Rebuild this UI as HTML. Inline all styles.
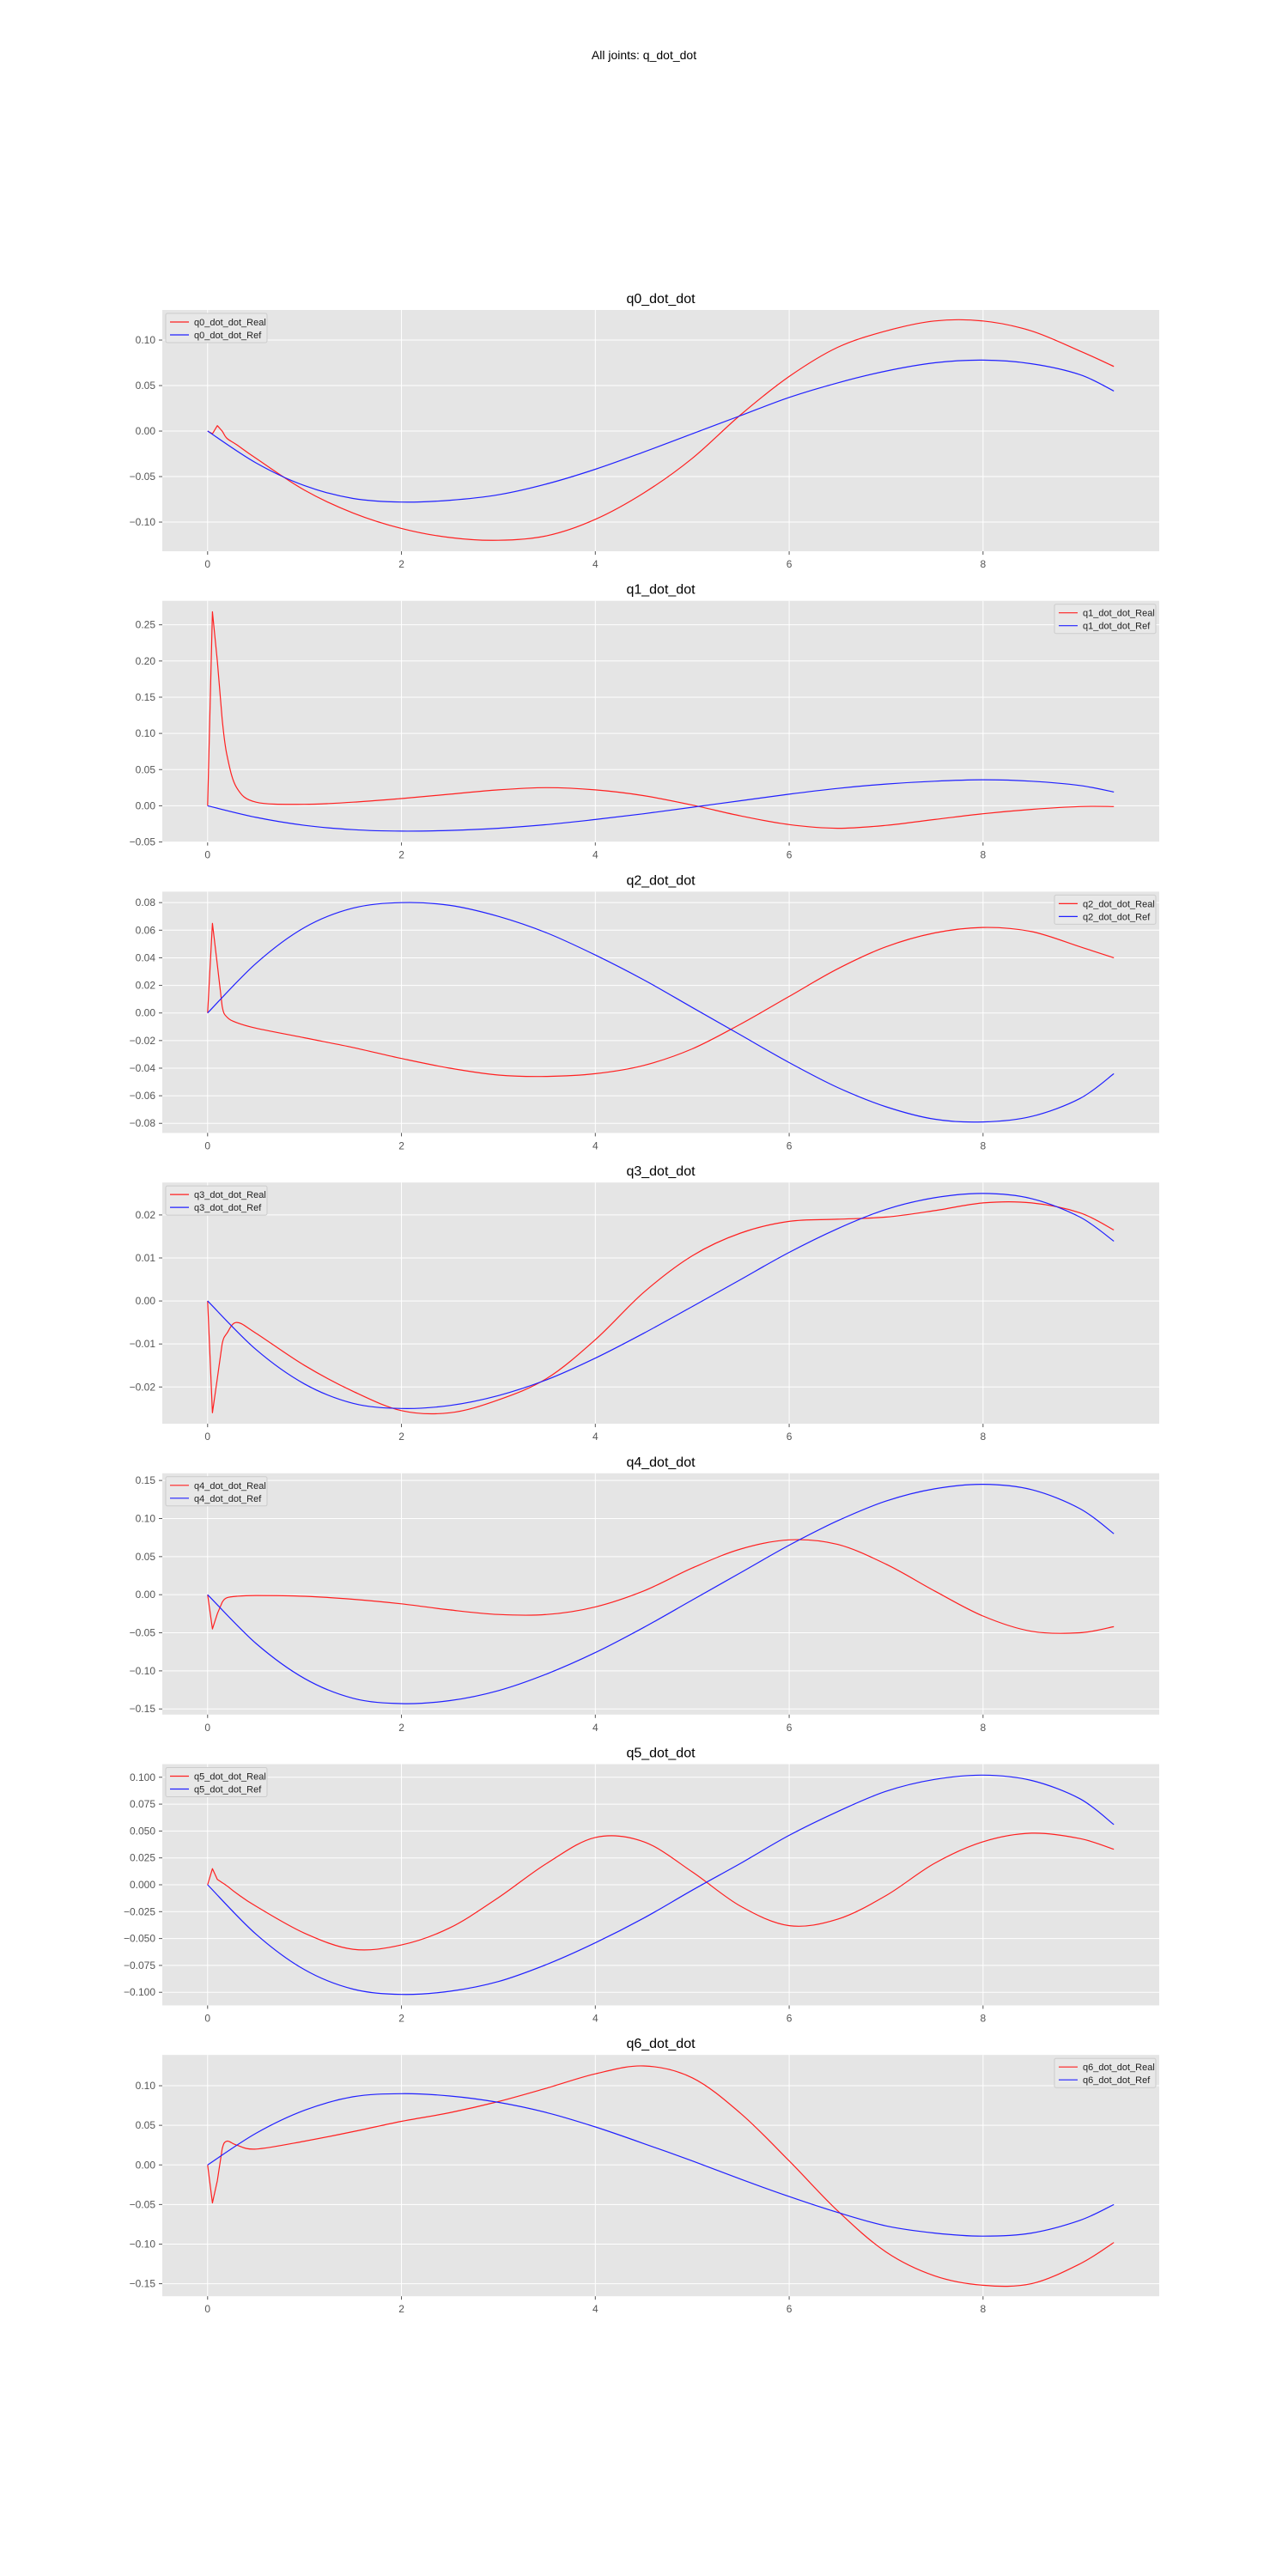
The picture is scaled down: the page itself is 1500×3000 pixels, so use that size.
<!DOCTYPE html>
<html><head><meta charset="utf-8"><style>
html,body{margin:0;padding:0;background:#fff;}
svg{display:block;font-family:"Liberation Sans",sans-serif;}
</style></head><body>
<svg id="fig" width="1500" height="3000" xmlns="http://www.w3.org/2000/svg">
<text x="750" y="69" text-anchor="middle" font-size="14" fill="#000">All joints: q_dot_dot</text>
</svg>
<script>
const tReal=[0,0.05,0.1,0.15,0.2,0.3,0.5,1,1.5,2,2.5,3,3.5,4,4.5,5,5.5,6,6.5,7,7.5,8,8.5,9,9.35];
const tRef=[0,0.5,1,1.5,2,2.5,3,3.5,4,4.5,5,5.5,6,6.5,7,7.5,8,8.5,9,9.35];
const xTicks=[0,2,4,6,8];
const names=["q0","q1","q2","q3","q4","q5","q6"];
const real0=[0,-0.003,0.006,0.0,-0.008,-0.015,-0.03,-0.065,-0.09,-0.107,-0.117,-0.12,-0.115,-0.097,-0.068,-0.03,0.018,0.06,0.092,0.11,0.121,0.121,0.11,0.088,0.071];
const ref0=[0,-0.035,-0.06,-0.074,-0.078,-0.076,-0.07,-0.058,-0.042,-0.023,-0.003,0.017,0.037,0.053,0.066,0.075,0.078,0.074,0.062,0.044];
const real1=[0,0.268,0.2,0.12,0.07,0.025,0.005,0.002,0.005,0.01,0.016,0.022,0.025,0.022,0.014,0.001,-0.014,-0.026,-0.031,-0.027,-0.019,-0.011,-0.005,-0.001,-0.001];
const ref1=[0,-0.016,-0.027,-0.033,-0.035,-0.034,-0.031,-0.026,-0.019,-0.011,-0.002,0.007,0.016,0.024,0.03,0.034,0.036,0.034,0.028,0.019];
const real2=[0,0.065,0.035,0.005,-0.003,-0.007,-0.011,-0.018,-0.025,-0.033,-0.04,-0.045,-0.046,-0.044,-0.038,-0.026,-0.008,0.012,0.032,0.048,0.058,0.062,0.059,0.048,0.04];
const ref2=[0,0.036,0.062,0.076,0.08,0.078,0.07,0.058,0.042,0.024,0.004,-0.016,-0.036,-0.054,-0.068,-0.077,-0.079,-0.075,-0.062,-0.044];
const real3=[0,-0.026,-0.018,-0.01,-0.0075,-0.005,-0.0075,-0.015,-0.021,-0.0255,-0.026,-0.023,-0.018,-0.009,0.002,0.0105,0.0158,0.0185,0.019,0.0195,0.021,0.0228,0.0228,0.0205,0.0165];
const ref3=[0,-0.0113,-0.0193,-0.0238,-0.025,-0.0243,-0.022,-0.0183,-0.0133,-0.0075,-0.0013,0.005,0.0113,0.0168,0.0213,0.024,0.025,0.0238,0.0195,0.0139];
const real4=[0,-0.045,-0.025,-0.01,-0.004,-0.002,-0.001,-0.002,-0.006,-0.012,-0.02,-0.026,-0.026,-0.016,0.005,0.035,0.06,0.072,0.066,0.04,0.005,-0.028,-0.048,-0.05,-0.042];
const ref4=[0,-0.064,-0.11,-0.136,-0.143,-0.139,-0.126,-0.104,-0.076,-0.043,-0.007,0.029,0.065,0.097,0.123,0.139,0.145,0.138,0.113,0.08];
const real5=[0,0.015,0.005,0.002,-0.001,-0.008,-0.02,-0.045,-0.06,-0.056,-0.04,-0.012,0.02,0.044,0.04,0.012,-0.02,-0.038,-0.032,-0.01,0.02,0.04,0.048,0.043,0.033];
const ref5=[0,-0.046,-0.079,-0.097,-0.102,-0.099,-0.09,-0.074,-0.054,-0.031,-0.005,0.02,0.046,0.068,0.087,0.098,0.102,0.097,0.08,0.056];
const real6=[0,-0.048,-0.02,0.02,0.03,0.025,0.02,0.03,0.042,0.055,0.066,0.08,0.097,0.115,0.125,0.11,0.065,0.005,-0.058,-0.11,-0.14,-0.152,-0.15,-0.125,-0.098];
const ref6=[0,0.04,0.069,0.086,0.09,0.087,0.079,0.066,0.048,0.027,0.005,-0.018,-0.04,-0.06,-0.077,-0.086,-0.09,-0.086,-0.07,-0.05];
const reals=[real0,real1,real2,real3,real4,real5,real6];
const refs=[ref0,ref1,ref2,ref3,ref4,ref5,ref6];
const yTickVals=[
 [-0.10,-0.05,0,0.05,0.10],
 [-0.05,0,0.05,0.10,0.15,0.20,0.25],
 [-0.08,-0.06,-0.04,-0.02,0,0.02,0.04,0.06,0.08],
 [-0.02,-0.01,0,0.01,0.02],
 [-0.15,-0.10,-0.05,0,0.05,0.10,0.15],
 [-0.100,-0.075,-0.050,-0.025,0,0.025,0.050,0.075,0.100],
 [-0.15,-0.10,-0.05,0,0.05,0.10]];
const yDec=[2,2,2,2,2,3,2];
const legendRight=[false,true,true,false,false,false,true];

const NS="http://www.w3.org/2000/svg";
const svg=document.getElementById('fig');
function mk(tag,attrs,parent){const e=document.createElementNS(NS,tag);for(const k in attrs)e.setAttribute(k,attrs[k]);(parent||svg).appendChild(e);return e;}
const L=189,R=1350,H=281,T0=361,STEP=338.7;
const tmax=tReal[tReal.length-1];
const xmin=-0.05*tmax,xmax=tmax*1.05;
function X(v){return L+(v-xmin)/(xmax-xmin)*(R-L);}
function fmt(v,d){const s=Math.abs(v).toFixed(d);return (v<0?"\u2212":"")+s;}
function smoothPath(pts,sharp){
  let d="M"+pts[0][0].toFixed(1)+","+pts[0][1].toFixed(1);
  for(let k=0;k<pts.length-1;k++){
    const p0=pts[Math.max(0,k-1)],p1=pts[k],p2=pts[k+1],p3=pts[Math.min(pts.length-1,k+2)];
    const s=(k<sharp)?0:1/6;
    const c1=[p1[0]+(p2[0]-p0[0])*s,p1[1]+(p2[1]-p0[1])*s];
    const c2=[p2[0]-(p3[0]-p1[0])*s,p2[1]-(p3[1]-p1[1])*s];
    d+=" C"+c1[0].toFixed(1)+","+c1[1].toFixed(1)+" "+c2[0].toFixed(1)+","+c2[1].toFixed(1)+" "+p2[0].toFixed(1)+","+p2[1].toFixed(1);
  }
  return d;
}
for(let i=0;i<7;i++){
  const top=T0+i*STEP,bot=top+H;
  const all=reals[i].concat(refs[i]);
  let mn=Math.min(...all),mx=Math.max(...all);const pad=(mx-mn)*0.05;const ymin=mn-pad,ymax=mx+pad;
  const Y=v=>bot-(v-ymin)/(ymax-ymin)*H;
  const g=mk('g',{});
  
  
  const bg=mk('rect',{x:L,y:top,width:R-L,height:H,fill:'#e5e5e5'},g);
  
  
  const tt=mk('text',{x:(L+R)/2,y:top-8,'text-anchor':'middle','font-size':'16',fill:'#000'},g);
  tt.textContent=names[i]+"_dot_dot";
  
  
  for(const v of xTicks){const x=X(v);
    const gl=mk('line',{x1:x,x2:x,y1:top,y2:bot,stroke:'#fff','stroke-width':1},g);
    
    
    mk('line',{x1:x,x2:x,y1:bot,y2:bot+4,stroke:'#555'},g);
    const tl=mk('text',{x:x,y:bot+19,'text-anchor':'middle','font-size':'12',fill:'#555'},g);
    tl.textContent=String(v);
    
    }
  for(const v of yTickVals[i]){if(v<ymin||v>ymax)continue;const y=Y(v);
    const gl=mk('line',{x1:L,x2:R,y1:y,y2:y,stroke:'#fff','stroke-width':1},g);
    
    
    mk('line',{x1:L-4,x2:L,y1:y,y2:y,stroke:'#555'},g);
    const tl=mk('text',{x:L-8,y:y+4,'text-anchor':'end','font-size':'12',fill:'#555'},g);
    tl.textContent=fmt(v,yDec[i]);
    
    }
  const pr=mk('path',{d:smoothPath(tReal.map((t,k)=>[X(t),Y(reals[i][k])]),3),fill:'none',stroke:'#ff2020','stroke-width':1.2,'stroke-linejoin':'round'},g);
  
  
  const pf=mk('path',{d:smoothPath(tRef.map((t,k)=>[X(t),Y(refs[i][k])]),0),fill:'none',stroke:'#2020ff','stroke-width':1.2,'stroke-linejoin':'round'},g);
  
  
  const lw=118,lx=legendRight[i]?R-lw-4:L+4,ly=top+4;
  const lg=mk('g',{},g);
  
  
  mk('rect',{x:lx,y:ly,width:lw,height:34,fill:'#e8e8e8',stroke:'#cccccc',rx:2},lg);
  const labs=[[names[i]+"_dot_dot_Real",'#ff2020'],[names[i]+"_dot_dot_Ref",'#2020ff']];
  labs.forEach((l,k)=>{const yy=ly+10+k*15;
    mk('line',{x1:lx+5,x2:lx+27,y1:yy,y2:yy,stroke:l[1],'stroke-width':1.2},lg);
    const t=mk('text',{x:lx+33,y:yy+4,'font-size':'11',fill:'#222'},lg);
    t.textContent=l[0];
    
    });
}
</script>
</body></html>
